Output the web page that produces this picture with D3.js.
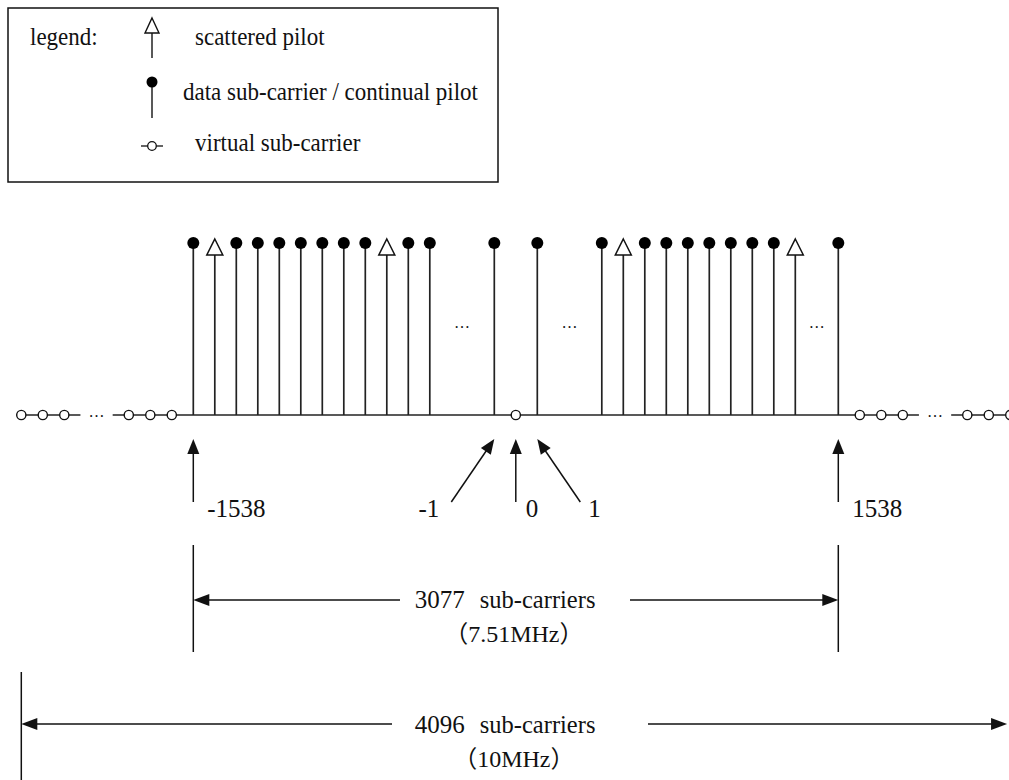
<!DOCTYPE html>
<html>
<head>
<meta charset="utf-8">
<script src="https://cdn.jsdelivr.net/npm/d3@7/dist/d3.min.js"></script>
<style>
  html, body { margin: 0; padding: 0; background: #fff; }
  svg { display: block; }
  text { font-family: "Liberation Serif", "Times New Roman", serif; fill: #111; }
  .cjk { font-family: "Noto Sans CJK SC", "Noto Sans CJK JP", sans-serif; }
</style>
</head>
<body>
<div id="chart"></div>
<script>
// ---------- data ----------
// sub-carrier slots (drawing positions on the frequency axis)
const dataCarrierSlots = [0, 2, 3, 4, 5, 6, 7, 8, 10, 11, 14, 16, 19, 21, 22, 23, 24, 25, 26, 27, 30];
const scatteredPilotSlots = [1, 9, 20, 28];
const virtualCarrierSlots = [-8, -7, -6, -3, -2, -1, 15, 31, 32, 33, 36, 37, 38];
const carrierAmplitude = 1;
const stemEllipsisSlots = [12.5, 17.5, 29];
const virtualEllipsisSlots = [-4.5, 34.5];
const baselineSegments = [[-8, -5.25], [-3.75, 33.75], [35.25, 38.5]];
// index annotations: arrow tip slot, arrow tail slot, label
const indexTipSlots = [0, 14, 15, 16, 30];
const indexTailSlots = [0, 12, 15, 18, 30];
const indexLabels = ["-1538", "-1", "0", "1", "1538"];
// bandwidth dimensions
const usedBandSlots = [0, 30];
const usedBandLabels = ["3077", "sub-carriers", "7.51MHz"];
const totalBandSlots = [-8, 37.85];
const totalBandLabels = ["4096", "sub-carriers", "10MHz"];
const legendTitle = "legend:";
const legendLabels = ["scattered pilot", "data sub-carrier / continual pilot", "virtual sub-carrier"];

// ---------- setup ----------
const W = 1009, H = 780;
const svg = d3.select("#chart").append("svg").attr("width", W).attr("height", H);

const x = d3.scaleLinear().domain([0, 30]).range([193.3, 838.3]);
const y = d3.scaleLinear().domain([0, 1]).range([415, 243]);

const stemColor = "#222";

function arrow(g, x1, y1, x2, y2, opts = {}) {
  const hl = opts.len || 15, hw = opts.w || 12, sw = opts.sw || 1.5;
  const dx = x2 - x1, dy = y2 - y1, L = Math.hypot(dx, dy);
  const ux = dx / L, uy = dy / L;
  const bx = x2 - ux * hl, by = y2 - uy * hl;
  g.append("line").attr("x1", x1).attr("y1", y1).attr("x2", bx + ux * 2).attr("y2", by + uy * 2)
    .attr("stroke", "#111").attr("stroke-width", sw);
  g.append("path")
    .attr("d", `M${x2},${y2}L${bx - uy * hw / 2},${by + ux * hw / 2}L${bx + uy * hw / 2},${by - ux * hw / 2}Z`)
    .attr("fill", "#111");
}

function bandLabel(g, cx, yTop, labels) {
  const t = g.append("text").attr("x", cx - 101).attr("y", yTop).attr("font-size", 25);
  t.append("tspan").text(labels[0]);
  t.append("tspan").attr("dx", 15).attr("font-size", 24.5).text(labels[1]);
  const t2 = g.append("text").attr("x", cx - 2).attr("y", yTop + 34).attr("text-anchor", "middle").attr("font-size", 24);
  t2.append("tspan").attr("class", "cjk").text("（");
  t2.append("tspan").text(labels[2]);
  t2.append("tspan").attr("class", "cjk").text("）");
}

// ---------- baseline ----------
const gBase = svg.append("g");
gBase.selectAll("line").data(baselineSegments).join("line")
  .attr("x1", d => x(d[0])).attr("x2", d => x(d[1]))
  .attr("y1", y(0)).attr("y2", y(0))
  .attr("stroke", stemColor).attr("stroke-width", 1.6);

// ---------- data carriers ----------
const gData = svg.append("g");
gData.selectAll("line").data(dataCarrierSlots).join("line")
  .attr("x1", d => x(d)).attr("x2", d => x(d))
  .attr("y1", y(0)).attr("y2", y(carrierAmplitude))
  .attr("stroke", stemColor).attr("stroke-width", 1.7);
gData.selectAll("circle").data(dataCarrierSlots).join("circle")
  .attr("cx", d => x(d)).attr("cy", y(carrierAmplitude)).attr("r", 6)
  .attr("fill", "#000");

// ---------- scattered pilots ----------
const gPilot = svg.append("g");
gPilot.selectAll("line").data(scatteredPilotSlots).join("line")
  .attr("x1", d => x(d)).attr("x2", d => x(d))
  .attr("y1", y(0)).attr("y2", y(carrierAmplitude) + 12)
  .attr("stroke", stemColor).attr("stroke-width", 1.7);
gPilot.selectAll("path").data(scatteredPilotSlots).join("path")
  .attr("d", d => {
    const cx = x(d), top = y(carrierAmplitude) - 4, bot = y(carrierAmplitude) + 12;
    return `M${cx},${top}L${cx + 8},${bot}L${cx - 8},${bot}Z`;
  })
  .attr("fill", "#fff").attr("stroke", "#111").attr("stroke-width", 1.5);

// ---------- virtual carriers ----------
svg.append("g").selectAll("circle").data(virtualCarrierSlots).join("circle")
  .attr("cx", d => x(d)).attr("cy", y(0)).attr("r", 4.6)
  .attr("fill", "#fff").attr("stroke", "#111").attr("stroke-width", 1.4);

// ---------- ellipses ----------
svg.append("g").selectAll("text").data(stemEllipsisSlots).join("text")
  .attr("x", d => x(d)).attr("y", 328).attr("text-anchor", "middle")
  .attr("font-size", 16).text("…");
svg.append("g").selectAll("text").data(virtualEllipsisSlots).join("text")
  .attr("x", d => x(d)).attr("y", y(0) + 2).attr("text-anchor", "middle")
  .attr("font-size", 16).text("…");

// ---------- index arrows ----------
const gIdx = svg.append("g");
indexTipSlots.forEach((s, i) => {
  arrow(gIdx, x(indexTailSlots[i]), 502, x(s), 439);
});
const labelAnchor = ["start", "end", "start", "start", "start"];
const labelDx = [14, -12, 10, 8, 14];
gIdx.selectAll("text").data(indexLabels).join("text")
  .attr("x", (d, i) => x(indexTailSlots[i]) + labelDx[i])
  .attr("y", 517)
  .attr("text-anchor", (d, i) => labelAnchor[i])
  .attr("font-size", 25)
  .text(d => d);

// ---------- used band dimension ----------
const gUsed = svg.append("g");
usedBandSlots.forEach(s => {
  gUsed.append("line").attr("x1", x(s)).attr("x2", x(s)).attr("y1", 545).attr("y2", 652)
    .attr("stroke", "#111").attr("stroke-width", 1.5);
});
const usedMid = (x(usedBandSlots[0]) + x(usedBandSlots[1])) / 2;
arrow(gUsed, 400, 600, x(usedBandSlots[0]), 600, { len: 16, w: 12 });
arrow(gUsed, 630, 600, x(usedBandSlots[1]), 600, { len: 16, w: 12 });
bandLabel(gUsed, usedMid, 608, usedBandLabels);

// ---------- total band dimension ----------
const gTot = svg.append("g");
gTot.append("line").attr("x1", x(totalBandSlots[0])).attr("x2", x(totalBandSlots[0]))
  .attr("y1", 672).attr("y2", H).attr("stroke", "#111").attr("stroke-width", 1.5);
arrow(gTot, 392, 724, x(totalBandSlots[0]), 724, { len: 16, w: 12 });
arrow(gTot, 648, 724, x(totalBandSlots[1]), 724, { len: 16, w: 12 });
bandLabel(gTot, usedMid, 733, totalBandLabels);

// ---------- legend ----------
const gLeg = svg.append("g");
gLeg.append("rect").attr("x", 8).attr("y", 8).attr("width", 490).attr("height", 174)
  .attr("fill", "none").attr("stroke", "#111").attr("stroke-width", 1.5);
const legFont = 25, legSX = 0.92;
gLeg.append("text").attr("transform", `translate(30,45) scale(${legSX},1)`)
  .attr("font-size", legFont).text(legendTitle);
const iconX = 152;
// scattered pilot icon
gLeg.append("line").attr("x1", iconX).attr("x2", iconX).attr("y1", 58).attr("y2", 33)
  .attr("stroke", stemColor).attr("stroke-width", 1.5);
gLeg.append("path").attr("d", `M${iconX},18L${iconX + 7},33L${iconX - 7},33Z`)
  .attr("fill", "#fff").attr("stroke", "#111").attr("stroke-width", 1.4);
// data icon
gLeg.append("line").attr("x1", iconX).attr("x2", iconX).attr("y1", 82).attr("y2", 118)
  .attr("stroke", stemColor).attr("stroke-width", 1.5);
gLeg.append("circle").attr("cx", iconX).attr("cy", 82).attr("r", 5.5).attr("fill", "#000");
// virtual icon
gLeg.append("line").attr("x1", iconX - 11).attr("x2", iconX + 11).attr("y1", 146).attr("y2", 146)
  .attr("stroke", stemColor).attr("stroke-width", 1.4);
gLeg.append("circle").attr("cx", iconX).attr("cy", 146).attr("r", 4.3)
  .attr("fill", "#fff").attr("stroke", "#111").attr("stroke-width", 1.3);
const legX = [195, 183, 195], legY = [45, 100, 151];
gLeg.selectAll("text.lab").data(legendLabels).join("text").attr("class", "lab")
  .attr("transform", (d, i) => `translate(${legX[i]},${legY[i]}) scale(${legSX},1)`)
  .attr("font-size", legFont).text(d => d);
</script>
</body>
</html>
